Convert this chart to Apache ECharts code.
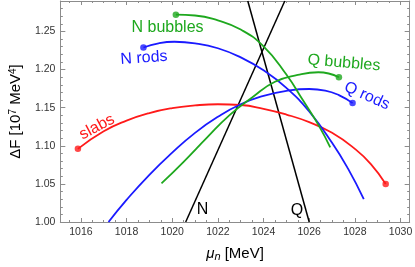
<!DOCTYPE html>
<html><head><meta charset="utf-8">
<script src="https://cdn.jsdelivr.net/npm/echarts@6/dist/echarts.min.js"></script>
<style>html,body{margin:0;padding:0;background:#fff}#c{width:415px;height:267px}</style>
</head><body><div id="c"></div>
<script>
// ---- tick labels ----
const xTickValues = [1016, 1018, 1020, 1022, 1024, 1026, 1028, 1030];
const xTickLabels = ['1016', '1018', '1020', '1022', '1024', '1026', '1028', '1030'];
const yTickValues = [1.00, 1.05, 1.10, 1.15, 1.20, 1.25];
const yTickLabels = ['1.00', '1.05', '1.10', '1.15', '1.20', '1.25'];

// ---- series data ----
const slabsX = [1015.87, 1017.0, 1018.0, 1019.0, 1020.0, 1021.0, 1022.0, 1023.0, 1024.0, 1025.0, 1026.0, 1027.0, 1028.0, 1028.7, 1029.35];
const slabsY = [1.096, 1.119, 1.133, 1.143, 1.1495, 1.153, 1.1545, 1.1535, 1.1485, 1.141, 1.131, 1.117, 1.096, 1.076, 1.050];

const nRodsX = [1018.74, 1019.4, 1020.1, 1021.0, 1022.0, 1023.0, 1024.0, 1025.0, 1026.0, 1027.0, 1027.7, 1028.39];
const nRodsY = [1.229, 1.2345, 1.2365, 1.2345, 1.228, 1.216, 1.199, 1.176, 1.145, 1.104, 1.070, 1.030];

const qRodsX = [1017.21, 1018.0, 1019.0, 1020.0, 1021.0, 1022.0, 1023.0, 1024.0, 1025.0, 1026.0, 1026.7, 1027.3, 1027.9];
const qRodsY = [1.000, 1.029, 1.062, 1.091, 1.117, 1.138, 1.1545, 1.1655, 1.172, 1.1745, 1.1725, 1.1665, 1.156];

const nBubblesX = [1020.16, 1021.0, 1022.0, 1023.0, 1024.0, 1025.0, 1025.72, 1026.42, 1026.92];
const nBubblesY = [1.272, 1.271, 1.2645, 1.2525, 1.2305, 1.1935, 1.160, 1.1265, 1.098];

const qBubblesX = [1019.53, 1020.5, 1021.5, 1022.5, 1023.5, 1024.5, 1025.5, 1026.4, 1027.3];
const qBubblesY = [1.0507, 1.079, 1.110, 1.140, 1.1635, 1.184, 1.193, 1.1965, 1.190];

const nLineX = [1020.59, 1024.93];
const nLineY = [1.00, 1.29];
const qLineX = [1023.31, 1026.0];
const qLineY = [1.29, 1.00];

// ---- axis ranges ----
const xMin = 1015.1, xMax = 1030.4;
const yMin = 1.00, yMax = 1.29;

const xMinorTicks = [];
for (let k = 0; k <= 30; k++) xMinorTicks.push(1015.5 + 0.5 * k);
const yMinorTicks = [];
for (let k = 0; k <= 29; k++) yMinorTicks.push(Math.round((1.00 + 0.01 * k) * 100) / 100);

const FONT = 'Liberation Sans, Arial, Helvetica, sans-serif';
const FRAME = '#8c8c8c';
const RED = '#ff1a1a', BLUE = '#1a1aff', GREEN = '#1ea81e', BLACK = '#000000';

function pairs(xs, ys) { return xs.map((x, i) => [x, ys[i]]); }
function lookup(vals, labels) {
  return function (v) {
    for (let i = 0; i < vals.length; i++) if (Math.abs(vals[i] - v) < 1e-6) return labels[i];
    return '';
  };
}

function xAx(pos, major, withLabels) {
  const o = {
    type: 'value', position: pos, min: xMin, max: xMax,
    axisLine: { show: major, onZero: false, lineStyle: { color: FRAME, width: 1 } },
    axisTick: { show: true, inside: true, length: major ? 4 : 2, customValues: major ? xTickValues : xMinorTicks, lineStyle: { color: FRAME, width: 1 } },
    axisLabel: { show: withLabels },
    splitLine: { show: false }
  };
  if (withLabels) {
    o.axisLabel = { show: true, customValues: xTickValues, formatter: lookup(xTickValues, xTickLabels), margin: 5, fontSize: 10.5, color: '#333', fontFamily: FONT };
    o.name = '{it|μ}{sub|n} [MeV]';
    o.nameLocation = 'middle';
    o.nameGap = 24;
    o.nameTextStyle = {
      fontFamily: FONT, fontSize: 15, color: '#000', lineHeight: 16,
      rich: {
        it: { fontFamily: FONT, fontSize: 15, fontStyle: 'italic', color: '#000', lineHeight: 16 },
        sub: { fontFamily: FONT, fontSize: 11, fontStyle: 'italic', color: '#000', lineHeight: 8, verticalAlign: 'bottom' }
      }
    };
  }
  return o;
}
function yAx(pos, major, withLabels) {
  const o = {
    type: 'value', position: pos, min: yMin, max: yMax,
    axisLine: { show: major, onZero: false, lineStyle: { color: FRAME, width: 1 } },
    axisTick: { show: true, inside: true, length: major ? 5 : 2.5, customValues: major ? yTickValues : yMinorTicks, lineStyle: { color: FRAME, width: 1 } },
    axisLabel: { show: withLabels },
    splitLine: { show: false }
  };
  if (withLabels) {
    o.axisLabel = { show: true, customValues: yTickValues, formatter: lookup(yTickValues, yTickLabels), margin: 5, fontSize: 10.5, color: '#333', fontFamily: FONT };
    o.name = 'ΔF [10{sup|7} MeV{sup|4}]';
    o.nameLocation = 'middle';
    o.nameRotate = 90;
    o.nameGap = 32;
    o.nameTextStyle = {
      fontFamily: FONT, fontSize: 15, color: '#000', lineHeight: 16,
      rich: {
        sup: { fontFamily: FONT, fontSize: 10, color: '#000', lineHeight: 8, verticalAlign: 'top' }
      }
    };
  }
  return o;
}

function curve(name, xs, ys, color) {
  return { name: name, type: 'line', data: pairs(xs, ys), showSymbol: false, smooth: 0.5, silent: true,
    lineStyle: { color: color, width: 1.8 }, itemStyle: { color: color }, z: 3 };
}
function dots(name, pts, color) {
  return { name: name, type: 'scatter', data: pts, symbolSize: 6.5, silent: true, itemStyle: { color: color }, z: 4 };
}
const last = a => a[a.length - 1];

function lbl(text, x, y, color, deg) {
  return { type: 'text', x: x, y: y, rotation: (deg || 0) * Math.PI / 180, z: 10, silent: true,
    style: { text: text, x: 0, y: 0, fill: color, font: '16px ' + FONT, align: 'center', verticalAlign: 'middle' } };
}

const chart = echarts.init(document.getElementById('c'), null, { renderer: 'canvas' });
chart.setOption({
  animation: false,
  backgroundColor: '#fff',
  grid: { left: 52, right: 1, top: 1, bottom: 41, containLabel: false },
  xAxis: [xAx('bottom', true, true), xAx('bottom', false, false), xAx('top', true, false), xAx('top', false, false)],
  yAxis: [yAx('left', true, true), yAx('left', false, false), yAx('right', true, false), yAx('right', false, false)],
  series: [
    curve('slabs', slabsX, slabsY, RED),
    curve('N rods', nRodsX, nRodsY, BLUE),
    curve('Q rods', qRodsX, qRodsY, BLUE),
    curve('N bubbles', nBubblesX, nBubblesY, GREEN),
    curve('Q bubbles', qBubblesX, qBubblesY, GREEN),
    { name: 'N', type: 'line', data: pairs(nLineX, nLineY), showSymbol: false, silent: true, lineStyle: { color: BLACK, width: 1.5 }, z: 2 },
    { name: 'Q', type: 'line', data: pairs(qLineX, qLineY), showSymbol: false, silent: true, lineStyle: { color: BLACK, width: 1.5 }, z: 2 },
    dots('slabs ends', [[slabsX[0], slabsY[0]], [last(slabsX), last(slabsY)]], RED),
    dots('N rods end', [[nRodsX[0], nRodsY[0]]], BLUE),
    dots('Q rods end', [[last(qRodsX), last(qRodsY)]], BLUE),
    dots('N bubbles end', [[nBubblesX[0], nBubblesY[0]]], GREEN),
    dots('Q bubbles end', [[last(qBubblesX), last(qBubblesY)]], GREEN)
  ],
  graphic: [
    lbl('slabs', 97, 127, RED, 28),
    lbl('N rods', 144, 58, BLUE, 4),
    lbl('N bubbles', 167.5, 27.5, GREEN, 0),
    lbl('Q bubbles', 344, 63, GREEN, -5),
    lbl('Q rods', 367, 96, BLUE, -24),
    lbl('N', 202.5, 210, BLACK, 0),
    lbl('Q', 297, 211, BLACK, 0)
  ]
});
</script>
</body></html>
